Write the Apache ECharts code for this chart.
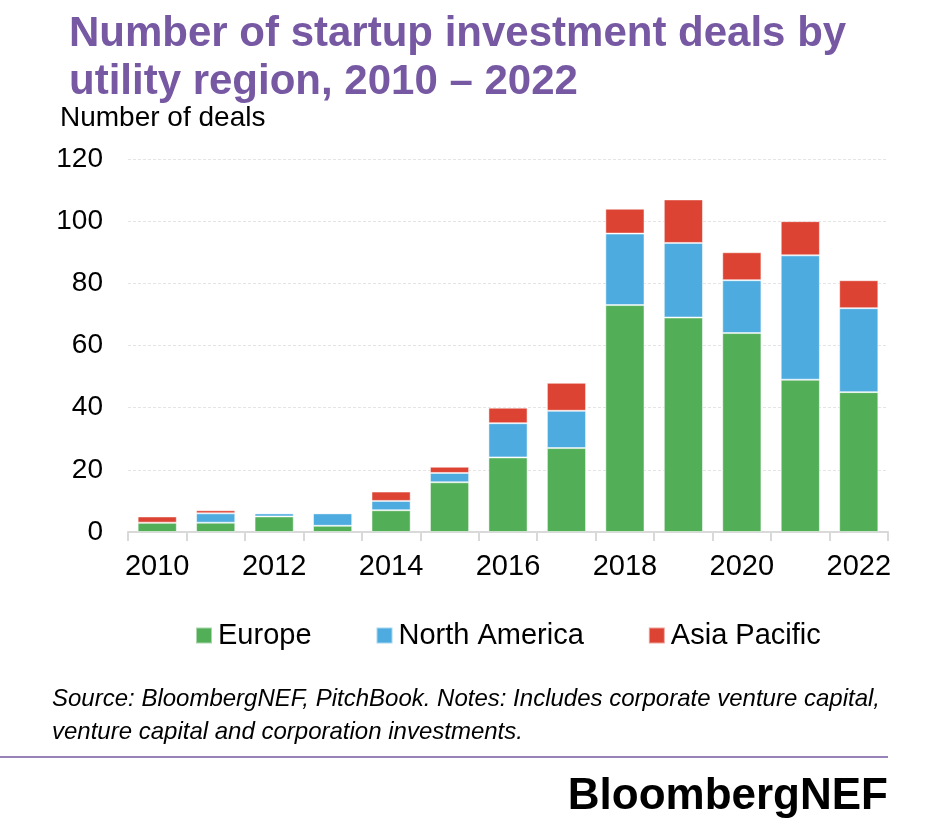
<!DOCTYPE html>
<html><head><meta charset="utf-8">
<script src="https://cdn.jsdelivr.net/npm/echarts@6/dist/echarts.min.js"></script>
<style>html,body{margin:0;padding:0;background:#fff}#c{width:938px;height:834px}</style>
</head><body><div id="c"></div>
<script>
const years = ['2010','2011','2012','2013','2014','2015','2016','2017','2018','2019','2020','2021','2022'];
const europe = [3, 3, 5, 2, 7, 16, 24, 27, 73, 69, 64, 49, 45];
const northAmerica = [0, 3, 1, 4, 3, 3, 11, 12, 23, 24, 17, 40, 27];
const asiaPacific = [2, 1, 0, 0, 3, 2, 5, 9, 8, 14, 9, 11, 9];
const yTicks = [0, 20, 40, 60, 80, 100, 120];

const FONT = '"Liberation Sans", Arial, sans-serif';
const chart = echarts.init(document.getElementById('c'), null, {renderer: 'canvas'});
const mk = (name, data, color) => ({
  name, type: 'bar', stack: 'total', data, barWidth: '67%',
  itemStyle: {color, borderColor: 'rgba(255,255,255,0.5)', borderWidth: 1},
  emphasis: {disabled: true}
});
chart.setOption({
  animation: false,
  textStyle: {fontFamily: FONT},
  title: {
    text: 'Number of startup investment deals by\nutility region, 2010 – 2022',
    left: 64, top: 5,
    textStyle: {color: '#7658A3', fontSize: 42, fontWeight: 'bold', fontFamily: FONT, lineHeight: 48}
  },
  grid: {left: 128, right: 50, top: 159, bottom: 302},
  legend: {
    bottom: 179, left: 190, itemGap: 64, itemWidth: 16, itemHeight: 16,
    icon: 'rect',
    textStyle: {fontSize: 29, color: '#000', fontFamily: FONT, padding: [0, 0, 0, 1]},
    data: ['Europe', 'North America', 'Asia Pacific']
  },
  xAxis: {
    type: 'category', data: years,
    axisLine: {lineStyle: {color: '#d9d9d9', width: 2}},
    axisTick: {show: true, length: 9, lineStyle: {color: '#d9d9d9', width: 2}, interval: 0},
    axisLabel: {interval: 1, fontSize: 29, color: '#000', margin: 20, fontFamily: FONT}
  },
  yAxis: {
    type: 'value', min: 0, max: 120, interval: 20,
    axisLine: {show: false}, axisTick: {show: false},
    splitLine: {lineStyle: {color: '#e4e4e4', type: [3, 2], width: 1}},
    axisLabel: {fontSize: 28, color: '#000', margin: 25, fontFamily: FONT,
      formatter: v => yTicks.includes(v) ? String(v) : ''}
  },
  series: [
    mk('Europe', europe, '#52AE57'),
    mk('North America', northAmerica, '#4DABDF'),
    mk('Asia Pacific', asiaPacific, '#DC4333')
  ],
  graphic: [
    {type: 'text', left: 60, top: 104, style: {text: 'Number of deals', font: '28px ' + FONT, fill: '#000'}},
    {type: 'text', left: 52, top: 683, style: {text: 'Source: BloombergNEF, PitchBook. Notes: Includes corporate venture capital,\nventure capital and corporation investments.', font: 'italic 24px ' + FONT, fill: '#000', lineHeight: 33}},
    {type: 'line', shape: {x1: 0, y1: 757, x2: 888, y2: 757}, style: {stroke: '#7658A3', lineWidth: 1.5}},
    {type: 'text', right: 50, top: 775, style: {text: 'BloombergNEF', font: 'bold 44px ' + FONT, fill: '#000'}}
  ]
});
</script></body></html>
